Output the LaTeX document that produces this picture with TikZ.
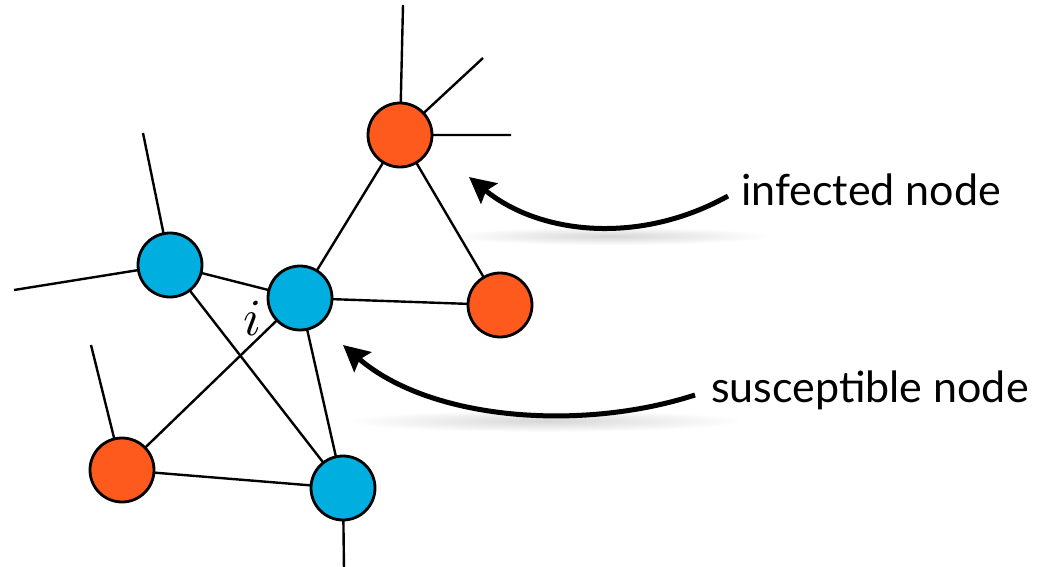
\documentclass[tikz,border=0pt]{standalone}
\usepackage{fontspec}
\setsansfont{Lato}
\usetikzlibrary{arrows.meta}
\definecolor{infected}{RGB}{255,90,30}
\definecolor{suscept}{RGB}{0,174,223}
\tikzset{
  vertex/.style={circle, draw=black, line width=2.8pt, minimum size=64pt, inner sep=0pt},
  inf/.style={vertex, fill=infected},
  sus/.style={vertex, fill=suscept},
  edge/.style={line width=2.4pt, black},
  pointer/.style={line width=5pt, black, -{Stealth[length=26pt, width=26pt, inset=4pt]}},
  caption/.style={font=\sffamily\fontsize{43}{48}\selectfont, anchor=west, inner sep=0pt},
  haze/.style={inner color=black!16, outer color=white}
}
\begin{document}
\begin{tikzpicture}[x=1pt, y=-1pt]
  \useasboundingbox (0,0) rectangle (1044,566);
  % soft shadows beneath the two pointers
  \shade[haze] (610,236) ellipse [x radius=160, y radius=9];
  \shade[haze] (545,421) ellipse [x radius=200, y radius=11];
  % node centres
  \coordinate (pA) at (400,135);
  \coordinate (pB) at (500,305);
  \coordinate (pC) at (300,298);
  \coordinate (pD) at (170,265);
  \coordinate (pE) at (122,470);
  \coordinate (pF) at (343,488);
  % free ends of dangling edges
  \coordinate (a1) at (403,5);
  \coordinate (a2) at (483,58);
  \coordinate (a3) at (511,135);
  \coordinate (d1) at (143,133);
  \coordinate (d2) at (14,290);
  \coordinate (e1) at (91,345);
  \coordinate (f1) at (344,570);
  % edges
  \draw[edge] (pA) -- (a1) (pA) -- (a2) (pA) -- (a3);
  \draw[edge] (pD) -- (d1) (pD) -- (d2);
  \draw[edge] (pE) -- (e1);
  \draw[edge] (pF) -- (f1);
  \draw[edge] (pA) -- (pC) (pA) -- (pB) (pC) -- (pB);
  \draw[edge] (pD) -- (pC) (pD) -- (pF);
  \draw[edge] (pC) -- (pE) (pC) -- (pF) (pE) -- (pF);
  \node[inf] (nA) at (pA) {};
  \node[inf] (nB) at (pB) {};
  \node[sus] (nC) at (pC) {};
  \node[sus] (nD) at (pD) {};
  \node[inf] (nE) at (pE) {};
  \node[sus] (nF) at (pF) {};
  \node[scale=5.2] (lbl) at (252,318) {$i$};
  % captions and pointers
  \node[caption] (tI) at (741,190) {infected node};
  \node[caption] (tS) at (711,390) {susceptible node};
  \coordinate (tipI) at (469,177);
  \coordinate (tipS) at (343,345);
  \draw[pointer] (728,196) .. controls (640,245) and (540,235) .. (tipI);
  \draw[pointer] (695,395) .. controls (580,432) and (430,420) .. (tipS);
\end{tikzpicture}
\end{document}
